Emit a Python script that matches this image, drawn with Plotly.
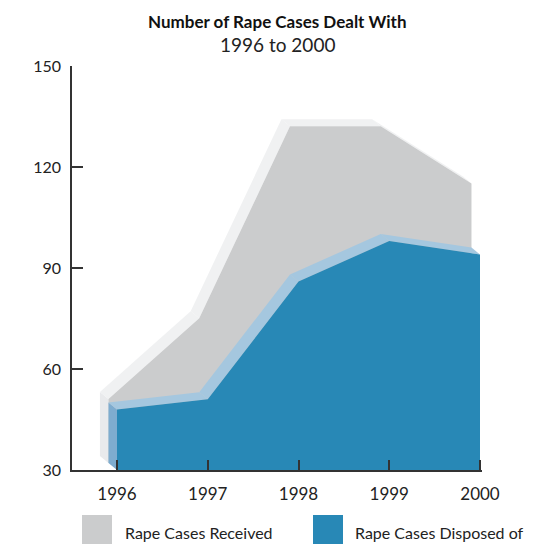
import plotly.graph_objects as go

# ---- data ----
years = [1996, 1997, 1998, 1999, 2000]
year_labels = ["1996", "1997", "1998", "1999", "2000"]
received = [49, 73, 130, 130, 113]
disposed = [48, 51, 86, 98, 94]
y_ticks = [30, 60, 90, 120, 150]
series_names = ["Rape Cases Received", "Rape Cases Disposed of"]

# ---- style ----
BASE = 30
DX, DY = -0.094, 2.08          # 3D depth offset per series row
GRAY_FRONT, GRAY_TOP, GRAY_SIDE = "#cbcccd", "#f0f1f2", "#e9eaec"
BLUE_FRONT, BLUE_TOP, BLUE_SIDE = "#2888b6", "#a5c7df", "#7eaccf"
FONT = "Lato"

fig = go.Figure()


def poly(xs, ys, color):
    return go.Scatter(x=xs + [xs[0]], y=ys + [ys[0]], fill="toself",
                      fillcolor=color, line=dict(width=0, color=color),
                      mode="lines", hoverinfo="skip", showlegend=False)


def slab(vals, k, front, top, side):
    fx = [x + k * DX for x in years]
    fy = [v + k * DY for v in vals]
    bx = [x + (k + 1) * DX for x in years]
    by = [v + (k + 1) * DY for v in vals]
    base_f = BASE + k * DY
    base_b = BASE + (k + 1) * DY
    fig.add_trace(poly([fx[0], fx[0], bx[0], bx[0]],
                       [base_f, fy[0], by[0], base_b], side))
    for i in range(len(years) - 1):
        fig.add_trace(poly([fx[i], fx[i + 1], bx[i + 1], bx[i]],
                           [fy[i], fy[i + 1], by[i + 1], by[i]], top))
    fig.add_trace(poly([fx[0]] + fx + [fx[-1]],
                       [base_f] + fy + [base_f], front))


slab(received, 1, GRAY_FRONT, GRAY_TOP, GRAY_SIDE)
slab(disposed, 0, BLUE_FRONT, BLUE_TOP, BLUE_SIDE)

# ---- layout ----
L, R, T, B = 72, 56, 66, 74
W, H = 538, 544
pw, ph = W - L - R, H - T - B
px_per_year = 90.75
x0 = years[0] - (117 - L) / px_per_year
x1 = years[-1] + (W - R - 480) / px_per_year

fig.update_layout(
    width=W, height=H,
    margin=dict(l=L, r=R, t=T, b=B),
    paper_bgcolor="white", plot_bgcolor="white",
    showlegend=False,
    font=dict(family=FONT, color="#222222"),
    xaxis=dict(range=[x0, x1], tickvals=years, ticktext=year_labels,
               showgrid=False, zeroline=False, showline=True,
               linecolor="#333333", linewidth=1.5,
               ticks="inside", ticklen=10, tickwidth=1.5, tickcolor="#333333",
               tickfont=dict(size=17, family=FONT, color="#222222"),
               ticklabelstandoff=8, fixedrange=True),
    yaxis=dict(range=[BASE, 150], tickvals=y_ticks,
               showgrid=False, zeroline=False, showline=True,
               linecolor="#333333", linewidth=1.5,
               ticks="inside", ticklen=11, tickwidth=1.5, tickcolor="#333333",
               tickfont=dict(size=16, family=FONT, color="#222222"),
               ticklabelstandoff=6, fixedrange=True),
)

# title
fig.add_annotation(text="<b>Number of Rape Cases Dealt With</b>", xref="paper", yref="paper",
                   x=(277 - L) / pw, y=1 + (T - 22) / ph, xanchor="center", yanchor="middle",
                   showarrow=False, font=dict(size=17, family=FONT, color="#111111"))
fig.add_annotation(text="1996 to 2000", xref="paper", yref="paper",
                   x=(277 - L) / pw, y=1 + (T - 45) / ph, xanchor="center", yanchor="middle",
                   showarrow=False, font=dict(size=19, family=FONT, color="#222222"))

# manual legend
legend_items = [(82, 123, GRAY_FRONT, series_names[0]), (313, 353, BLUE_FRONT, series_names[1])]
for sx, tx, col, name in legend_items:
    fig.add_shape(type="rect", xref="paper", yref="paper",
                  x0=(sx - L) / pw, x1=(sx + 30 - L) / pw,
                  y0=(T + ph - 515) / ph, y1=(T + ph - 546) / ph,
                  fillcolor=col, line=dict(width=0))
    fig.add_annotation(text=name, xref="paper", yref="paper",
                       x=(tx - L) / pw, y=(T + ph - 532) / ph,
                       xanchor="left", yanchor="middle", showarrow=False,
                       font=dict(size=16, family=FONT, color="#222222"))

fig.write_html("out.html")
